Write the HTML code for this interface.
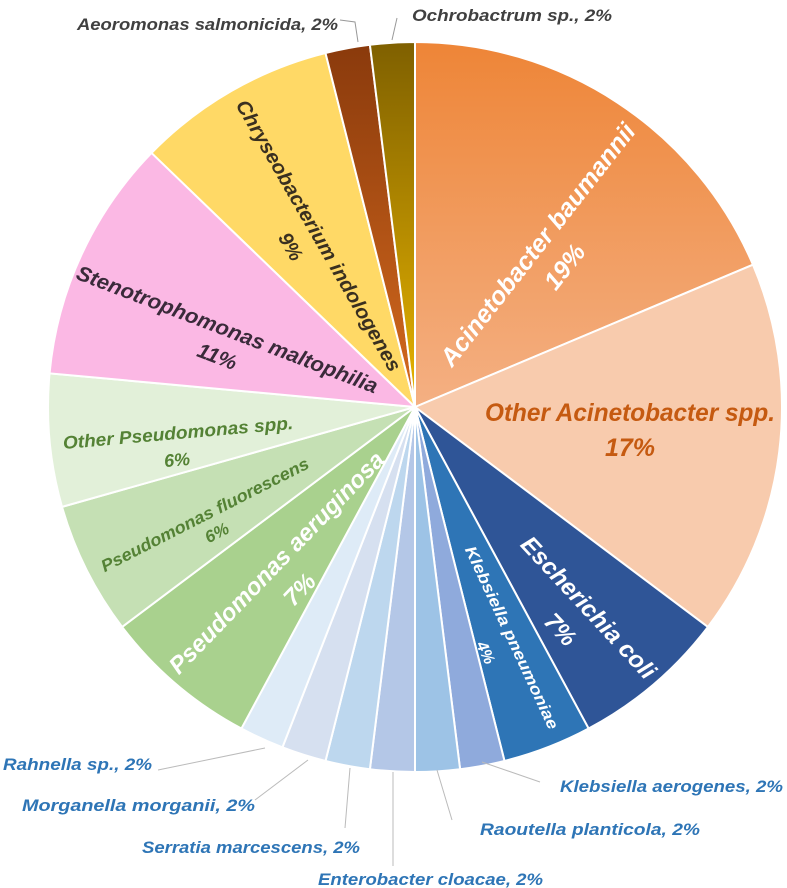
<!DOCTYPE html>
<html><head><meta charset="utf-8"><style>
html,body{margin:0;padding:0;background:#fff;}
svg{display:block;font-family:"Liberation Sans",sans-serif;font-style:italic;font-weight:bold;}
</style></head><body>
<svg id="chart" width="787" height="888" viewBox="0 0 787 888">
<defs>
<linearGradient id="gA" x1="0" y1="0" x2="0" y2="1"><stop offset="0" stop-color="#ee8537"/><stop offset="1" stop-color="#f4b083"/></linearGradient>
<linearGradient id="gAe" x1="0" y1="0" x2="0" y2="1"><stop offset="0" stop-color="#8a3a0c"/><stop offset="1" stop-color="#d56a1e"/></linearGradient>
<linearGradient id="gO" x1="0" y1="0" x2="0" y2="1"><stop offset="0" stop-color="#7f6000"/><stop offset="1" stop-color="#e8b400"/></linearGradient>
</defs>
<g id="slices"></g>
<g id="labels" text-anchor="middle" dominant-baseline="central">
<text transform="translate(538,245) rotate(-52)" font-size="25" fill="#fff" textLength="300" lengthAdjust="spacingAndGlyphs">Acinetobacter baumannii</text>
<text transform="translate(565,267) rotate(-52)" font-size="25" fill="#fff">19%</text>
<text x="630" y="413" font-size="25" fill="#c55a11" textLength="290" lengthAdjust="spacingAndGlyphs">Other Acinetobacter spp.</text>
<text x="630" y="448" font-size="25" fill="#c55a11">17%</text>
<text transform="translate(588,608) rotate(47)" font-size="24" fill="#fff" textLength="185" lengthAdjust="spacingAndGlyphs">Escherichia coli</text>
<text transform="translate(560,630) rotate(47)" font-size="24" fill="#fff">7%</text>
<text transform="translate(511,638) rotate(65)" font-size="16" fill="#fff" textLength="200" lengthAdjust="spacingAndGlyphs">Klebsiella pneumoniae</text>
<text transform="translate(485,653) rotate(65)" font-size="16" fill="#fff">4%</text>
<text transform="translate(277,563) rotate(-46)" font-size="24" fill="#fff" textLength="298" lengthAdjust="spacingAndGlyphs">Pseudomonas aeruginosa</text>
<text transform="translate(300,590) rotate(-46)" font-size="24" fill="#fff">7%</text>
<text transform="translate(205,515) rotate(-27)" font-size="17" fill="#548235" textLength="231" lengthAdjust="spacingAndGlyphs">Pseudomonas fluorescens</text>
<text transform="translate(217,533) rotate(-27)" font-size="17" fill="#548235">6%</text>
<text transform="translate(178,433) rotate(-5)" font-size="18" fill="#548235" textLength="231" lengthAdjust="spacingAndGlyphs">Other Pseudomonas spp.</text>
<text transform="translate(177,460) rotate(-5)" font-size="18" fill="#548235">6%</text>
<text transform="translate(227,330) rotate(21)" font-size="21" fill="#3a2a3a" textLength="321" lengthAdjust="spacingAndGlyphs">Stenotrophomonas  maltophilia</text>
<text transform="translate(217,357) rotate(21)" font-size="21" fill="#3a2a3a">11%</text>
<text transform="translate(318,236) rotate(60)" font-size="20" fill="#3a3020" textLength="310" lengthAdjust="spacingAndGlyphs">Chryseobacterium  indologenes</text>
<text transform="translate(290,247) rotate(60)" font-size="20" fill="#3a3020">9%</text>
</g>
<g id="outer" font-size="17">
<polyline points="340,20 355,22 358,42" fill="none" stroke="#999"/>
<text x="77" y="30" fill="#404040" textLength="261" lengthAdjust="spacingAndGlyphs">Aeoromonas salmonicida, 2%</text>
<polyline points="397,18 392,40" fill="none" stroke="#999"/>
<text x="412" y="21" fill="#404040" textLength="200" lengthAdjust="spacingAndGlyphs">Ochrobactrum sp., 2%</text>
<polyline points="158,770 265,748" fill="none" stroke="#bbb"/>
<text x="3" y="770" fill="#2e75b6" textLength="149" lengthAdjust="spacingAndGlyphs">Rahnella sp., 2%</text>
<polyline points="255,800 308,760" fill="none" stroke="#bbb"/>
<text x="22" y="811" fill="#2e75b6" textLength="233" lengthAdjust="spacingAndGlyphs">Morganella morganii, 2%</text>
<polyline points="345,828 350,768" fill="none" stroke="#bbb"/>
<text x="142" y="853" fill="#2e75b6" textLength="218" lengthAdjust="spacingAndGlyphs">Serratia marcescens, 2%</text>
<polyline points="393,866 393,772" fill="none" stroke="#bbb"/>
<text x="318" y="885" fill="#2e75b6" textLength="225" lengthAdjust="spacingAndGlyphs">Enterobacter cloacae, 2%</text>
<polyline points="452,820 437,770" fill="none" stroke="#bbb"/>
<text x="480" y="835" fill="#2e75b6" textLength="220" lengthAdjust="spacingAndGlyphs">Raoutella planticola, 2%</text>
<polyline points="540,782 482,762" fill="none" stroke="#bbb"/>
<text x="560" y="792" fill="#2e75b6" textLength="223" lengthAdjust="spacingAndGlyphs">Klebsiella aerogenes, 2%</text>
</g>
</svg>
<script>
const categories = ["Acinetobacter baumannii","Other Acinetobacter spp.","Escherichia coli","Klebsiella pneumoniae","Klebsiella aerogenes","Raoutella planticola","Enterobacter cloacae","Serratia marcescens","Morganella morganii","Rahnella sp.","Pseudomonas aeruginosa","Pseudomonas fluorescens","Other Pseudomonas spp.","Stenotrophomonas maltophilia","Chryseobacterium indologenes","Aeoromonas salmonicida","Ochrobactrum sp."];
const values = [19,17,7,4,2,2,2,2,2,2,7,6,6,11,9,2,2];
const colors = ["url(#gA)","#f8cbad","#2f5597","#2e75b6","#8faadc","#9dc3e6","#b4c7e7","#bdd7ee","#d6e0f0","#deebf7","#a9d18e","#c5e0b4","#e2f0d9","#fbb8e4","#ffd966","url(#gAe)","url(#gO)"];
const cx=415, cy=407, RX=367, RY=365;
const total = values.reduce((a,b)=>a+b,0);
const g = document.getElementById('slices');
function pt(a){return [cx+RX*Math.sin(a), cy-RY*Math.cos(a)];}
let acc=0;
values.forEach((v,i)=>{
  const a0=acc/total*2*Math.PI; acc+=v; const a1=acc/total*2*Math.PI;
  const p0=pt(a0), p1=pt(a1);
  const large=(a1-a0)>Math.PI?1:0;
  const p=document.createElementNS('http://www.w3.org/2000/svg','path');
  p.setAttribute('d',`M${cx},${cy} L${p0[0]},${p0[1]} A${RX},${RY} 0 ${large} 1 ${p1[0]},${p1[1]} Z`);
  p.setAttribute('fill',colors[i]);
  p.setAttribute('stroke','#fff');
  p.setAttribute('stroke-width','2');
  
  
  g.appendChild(p);
});
</script>
</body></html>
